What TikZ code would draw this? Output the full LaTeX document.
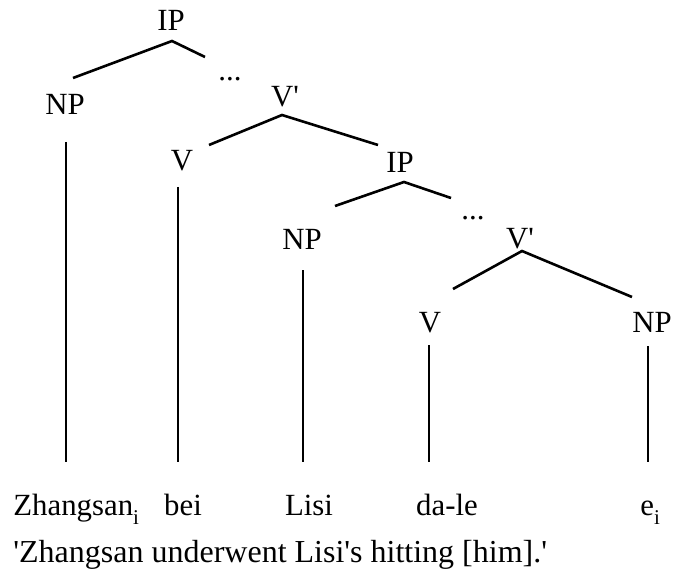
\documentclass[tikz,border=0pt]{standalone}
\usepackage{fontspec}
\setmainfont{Liberation Serif}
\usepackage{tikz}

\newcommand{\apos}{\textquotesingle}
\newcommand{\idx}[1]{\raisebox{-4.5pt}{\fontsize{10.5}{12}\selectfont #1}}

\tikzset{
  cat/.style={anchor=base,inner sep=0pt,font=\fontsize{15.4}{18}\selectfont},
  word/.style={anchor=base,inner sep=0pt,font=\fontsize{15.4}{18}\selectfont},
  branch/.style={line width=1.3pt}
}

\begin{document}
\begin{tikzpicture}[x=0.5pt,y=-0.5pt]
\useasboundingbox (0,0) rectangle (673,577);
% categories
\node[cat] (ip1) at (171,31) {IP};
\node[cat] (np1) at (65,115) {NP};
\node[cat] (dots1) at (230,81) {...};
\node[cat] (vb1) at (285,107) {V\apos};
\node[cat] (v1) at (182,170) {V};
\node[cat] (ip2) at (400,172) {IP};
\node[cat] (np2) at (302,249) {NP};
\node[cat] (dots2) at (473,219) {...};
\node[cat] (vb2) at (520,248) {V\apos};
\node[cat] (v2) at (430,332) {V};
\node[cat] (np3) at (652,332) {NP};
% words
\node[word,anchor=base west] (zs) at (13,515) {Zhangsan\idx{i}};
\node[word] (bei) at (183,515) {bei};
\node[word] (lisi) at (309,515) {Lisi};
\node[word] (dale) at (447,515) {da-le};
\node[word,anchor=base west] (ei) at (640,515) {e\idx{i}};
\node[word,anchor=base west,font=\fontsize{16}{18}\selectfont] (gloss) at (13,562) {\apos Zhangsan underwent Lisi\apos s hitting [him].\apos};
% branch ends
\coordinate (ip1 b) at (172,41);
\coordinate (np1 t) at (73,78);
\coordinate (dots1 t) at (205,57);
\coordinate (vb1 b) at (282,115);
\coordinate (v1 t) at (209,145);
\coordinate (ip2 t) at (378,145);
\coordinate (ip2 b) at (404,182);
\coordinate (np2 t) at (335,206);
\coordinate (dots2 t) at (451,198);
\coordinate (vb2 b) at (522,251);
\coordinate (v2 t) at (453,289);
\coordinate (np3 t) at (632,297);
\coordinate (np1 b) at (66,142);
\coordinate (v1 b) at (178,187);
\coordinate (np2 b) at (303,270);
\coordinate (v2 b) at (429,345);
\coordinate (np3 b) at (648,346);
\coordinate (zs t) at (66,462);
\coordinate (bei t) at (178,462);
\coordinate (lisi t) at (303,462);
\coordinate (dale t) at (429,462);
\coordinate (ei t) at (648,462);
% branches
\draw[branch] (np1 t) -- (ip1 b) -- (dots1 t);
\draw[branch] (v1 t) -- (vb1 b) -- (ip2 t);
\draw[branch] (np2 t) -- (ip2 b) -- (dots2 t);
\draw[branch] (v2 t) -- (vb2 b) -- (np3 t);
\draw[branch] (np1 b) -- (zs t);
\draw[branch] (v1 b) -- (bei t);
\draw[branch] (np2 b) -- (lisi t);
\draw[branch] (v2 b) -- (dale t);
\draw[branch] (np3 b) -- (ei t);
\end{tikzpicture}
\end{document}
